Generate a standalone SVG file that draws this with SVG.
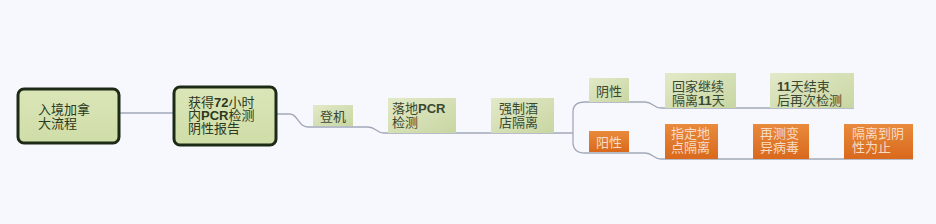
<svg xmlns="http://www.w3.org/2000/svg" width="936" height="224" viewBox="0 0 936 224">
<defs>
<linearGradient id="gGreen" x1="0" y1="0" x2="1" y2="1">
<stop offset="0" stop-color="#e2e9c8"/>
<stop offset="1" stop-color="#c8d6a2"/>
</linearGradient>
<linearGradient id="gMain" x1="0" y1="0" x2="0" y2="1">
<stop offset="0" stop-color="#dbe6b8"/>
<stop offset="1" stop-color="#cfdda8"/>
</linearGradient>
<linearGradient id="gOrange" x1="0" y1="0" x2="0" y2="1">
<stop offset="0" stop-color="#e98a3c"/>
<stop offset="1" stop-color="#d9691c"/>
</linearGradient>
</defs>
<style>
.main{fill:url(#gMain);stroke:#1d2a16;stroke-width:3}
.green{fill:url(#gGreen)}
.orange{fill:url(#gOrange)}
.t{font-family:"Noto Sans CJK SC","Liberation Sans",sans-serif;font-size:13px;fill:#3a4830}
.tm{font-family:"Noto Sans CJK SC","Liberation Sans",sans-serif;font-size:13px;fill:#2c3820}
.to{font-family:"Noto Sans CJK SC","Liberation Sans",sans-serif;font-size:13px;fill:#f6dcc6}
.b{font-family:"Liberation Sans",sans-serif;font-weight:bold}
.c{fill:none;stroke:#a2a8b8;stroke-width:1.3}
</style>
<rect width="936" height="224" fill="#f6f8fd"/>
<g id="connectors">
<path class="c" d="M120,113 H173"/>
<path class="c" d="M277,114 H290 C298,114 298,127 308,127 H368 C376,127 376,133 384,133 H573"/>
<path class="c" d="M573,133 V112 Q573,102 585,102 H645 C653,102 653,108 661,108 H854"/>
<path class="c" d="M573,133 V142 Q573,153 585,153 H645 C653,153 653,159 661,159 H913"/>
</g>
<g id="n1">
<rect class="main" x="18" y="89" width="101" height="54" rx="6"/>
<text class="tm" x="38" y="114">入境加拿</text>
<text class="tm" x="38" y="128">大流程</text>
</g>
<g id="n2">
<rect class="main" x="174" y="87" width="102" height="58" rx="6"/>
<text class="tm" x="188" y="107">获得<tspan class="b">72</tspan>小时</text>
<text class="tm" x="188" y="120">内<tspan class="b">PCR</tspan>检测</text>
<text class="tm" x="188" y="133">阴性报告</text>
</g>
<g id="n3">
<rect class="green" x="313" y="105" width="40" height="21"/>
<text class="t" x="320" y="121">登机</text>
</g>
<g id="n4">
<rect class="green" x="388" y="98" width="68" height="35"/>
<text class="t" x="392" y="113">落地<tspan class="b">PCR</tspan></text>
<text class="t" x="392" y="127">检测</text>
</g>
<g id="n5">
<rect class="green" x="491" y="98" width="63" height="35"/>
<text class="t" x="499" y="113">强制酒</text>
<text class="t" x="499" y="127">店隔离</text>
</g>
<g id="n6">
<rect class="green" x="589" y="78" width="40" height="24"/>
<text class="t" x="596" y="96">阴性</text>
</g>
<g id="n7">
<rect class="orange" x="589" y="131" width="40" height="21"/>
<text class="to" x="596" y="147">阳性</text>
</g>
<g id="n8">
<rect class="green" x="665" y="73" width="71" height="35"/>
<text class="t" x="672" y="91">回家继续</text>
<text class="t" x="672" y="105">隔离<tspan class="b">11</tspan>天</text>
</g>
<g id="n9">
<rect class="green" x="770" y="73" width="84" height="35"/>
<text class="t" x="777" y="91"><tspan class="b">11</tspan>天结束</text>
<text class="t" x="777" y="105">后再次检测</text>
</g>
<g id="n10">
<rect class="orange" x="665" y="124" width="53" height="35"/>
<text class="to" x="671" y="138">指定地</text>
<text class="to" x="671" y="152">点隔离</text>
</g>
<g id="n11">
<rect class="orange" x="753" y="124" width="56" height="35"/>
<text class="to" x="760" y="138">再测变</text>
<text class="to" x="760" y="152">异病毒</text>
</g>
<g id="n12">
<rect class="orange" x="844" y="124" width="69" height="35"/>
<text class="to" x="852" y="138">隔离到阴</text>
<text class="to" x="852" y="152">性为止</text>
</g>
</svg>
